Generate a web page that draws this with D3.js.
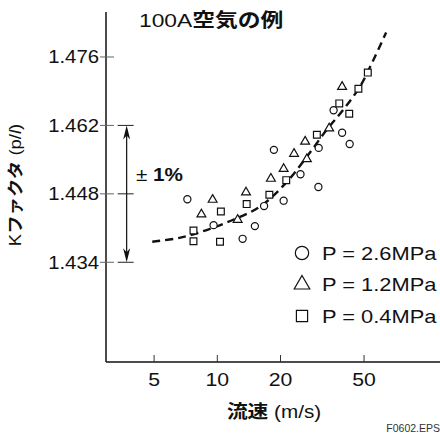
<!DOCTYPE html>
<html lang="ja">
<head>
<meta charset="UTF-8">
<title>100A空気の例</title>
<style>
    html, body { margin: 0; padding: 0; background: #fff; }
    svg text { font-family: 'Liberation Sans', Arial, 'Noto Sans CJK JP', sans-serif; fill: #111; }
</style>
</head>
<body>
<div id="chart"></div>
<script src="https://d3js.org/d3.v7.min.js"></script>
<script>
// axis ticks
const xTicks = [5, 10, 20, 50];
const yTicks = [1.434, 1.448, 1.462, 1.476];

// measured points, flow velocity (m/s) and K factor (p/l)
const names = ["P = 2.6MPa", "P = 1.2MPa", "P = 0.4MPa"];
const v26 = [7.2, 9.6, 13.2, 15.1, 16.7, 20.7, 18.6, 24.9, 30.3, 30.4, 35.8, 39.3, 42.7];
const k26 = [1.4469, 1.4416, 1.4388, 1.4414, 1.4455, 1.4466, 1.4570, 1.4520, 1.4494, 1.4574, 1.4651, 1.4605, 1.4582];
const v12 = [8.4, 9.5, 12.5, 13.7, 18.0, 20.7, 23.2, 26.7, 26.2, 34.1, 39.3];
const k12 = [1.4438, 1.4468, 1.4427, 1.4483, 1.4511, 1.4531, 1.4562, 1.4551, 1.4587, 1.4614, 1.4699];
const v04 = [7.7, 7.7, 10.4, 10.3, 13.8, 17.7, 21.3, 29.8, 38.1, 42.5, 47.0, 52.1];
const k04 = [1.4405, 1.4383, 1.4444, 1.4382, 1.4459, 1.4478, 1.4508, 1.4601, 1.4665, 1.4644, 1.4695, 1.4728];

// dashed trend curve
const curveV = [4.9, 6.6, 8.9, 11.9, 16, 21.4, 26.7, 33.2, 39.8, 47.9, 55.4, 63.7];
const curveK = [1.4382, 1.4390, 1.4406, 1.4427, 1.4454, 1.4504, 1.4556, 1.4611, 1.4652, 1.4700, 1.4754, 1.4810];

// ±1% band
const bandK = [1.434, 1.448, 1.462];

const W = 440, H = 434;

const svg = d3.select("#chart").append("svg")
    .attr("width", W).attr("height", H);

const x = d3.scaleLog().domain([2.95, 115]).range([106, 440]);
const y = d3.scaleLinear().domain([1.4136, 1.4852]).range([362, 12]);

// text helper: parts = [[string, bold, italic], ...]; text in the original is a bit wide, so stretch it
function label(px, py, parts, size, anchor, sx, rot) {
    const t = svg.append("text")
        .attr("transform", `translate(${px},${py}) rotate(${rot || 0}) scale(${sx || 1.15},1)`)
        .attr("font-size", size)
        .attr("text-anchor", anchor || "start");
    parts.forEach(p => {
        t.append("tspan").text(p[0])
            .attr("font-weight", p[1] ? "bold" : "normal")
            .attr("font-style", p[2] ? "italic" : "normal");
    });
    return t;
}

// AXES
svg.append("line")
    .attr("x1", x.range()[0]).attr("x2", x.range()[0])
    .attr("y1", y.range()[1]).attr("y2", y.range()[0])
    .attr("stroke", "#111").attr("stroke-width", 1.5);
svg.append("line")
    .attr("x1", x.range()[0]).attr("x2", x.range()[1])
    .attr("y1", y.range()[0]).attr("y2", y.range()[0])
    .attr("stroke", "#111").attr("stroke-width", 1.5);

// x ticks point inward
svg.selectAll(".xt").data(xTicks).enter().append("line")
    .attr("x1", d => x(d)).attr("x2", d => x(d))
    .attr("y1", y.range()[0]).attr("y2", y.range()[0] - 7)
    .attr("stroke", "#333").attr("stroke-width", 1);
xTicks.forEach(d => label(x(d), 386, [[String(d)]], 18, "middle", 1.18));

// y ticks cross the axis
svg.selectAll(".yt").data(yTicks).enter().append("line")
    .attr("x1", x.range()[0] - 6).attr("x2", x.range()[0] + 8)
    .attr("y1", d => y(d)).attr("y2", d => y(d))
    .attr("stroke", "#666").attr("stroke-width", 1);
yTicks.forEach(d => label(99, y(d) + 6.5, [[d.toFixed(3)]], 18, "end", 1.13));

// ±1% bracket
const bx = x(3.7);
svg.selectAll(".cap").data(bandK).enter().append("line")
    .attr("x1", bx - 9).attr("x2", bx + 7)
    .attr("y1", d => y(d)).attr("y2", d => y(d))
    .attr("stroke", "#222").attr("stroke-width", 1);
svg.append("line")
    .attr("x1", bx).attr("x2", bx)
    .attr("y1", y(bandK[2]) + 4).attr("y2", y(bandK[0]) - 4)
    .attr("stroke", "#111").attr("stroke-width", 1.2);
[[bandK[2], 1], [bandK[0], -1]].forEach(([v, dir]) => {
    const yy = y(v);
    svg.append("path")
        .attr("d", `M${bx},${yy} L${bx - 3.5},${yy + dir * 14} L${bx},${yy + dir * 10} L${bx + 3.5},${yy + dir * 14} Z`)
        .attr("fill", "#111");
});
label(136, 181, [["± "], ["1%", true]], 18, "start", 1.15);

// trend curve
const line = d3.line().x(d => x(d[0])).y(d => y(d[1])).curve(d3.curveCatmullRom);
svg.append("path")
    .datum(curveV.map((v, i) => [v, curveK[i]]))
    .attr("d", line)
    .attr("fill", "none").attr("stroke", "#111")
    .attr("stroke-width", 2.4).attr("stroke-dasharray", "8,5");

// data markers
const series = [
    {v: v26, k: k26, type: d3.symbolCircle, size: 40, big: 140},
    {v: v12, k: k12, type: d3.symbolTriangle, size: 34, big: 105},
    {v: v04, k: k04, type: d3.symbolSquare, size: 46, big: 125}
];
series.forEach(s => {
    svg.append("g").selectAll("path")
        .data(s.v.map((v, i) => [v, s.k[i]])).enter()
        .append("path")
        .attr("d", d3.symbol().type(s.type).size(s.size))
        .attr("transform", d => `translate(${x(d[0])},${y(d[1])})`)
        .attr("fill", "#fff").attr("stroke", "#111").attr("stroke-width", 1.2);
});

// LEGEND
series.forEach((s, i) => {
    const ly = 253 + i * 31.5;
    svg.append("path")
        .attr("d", d3.symbol().type(s.type).size(s.big))
        .attr("transform", `translate(302,${ly})`)
        .attr("fill", "#fff").attr("stroke", "#111").attr("stroke-width", 1.2);
    label(322, ly + 6.5, [[names[i]]], 17.5, "start", 1.25);
});

// TITLES
label(139, 27, [["100A"], ["空気の例", true]], 19, "start", 1.2);
label(274, 418, [["流速", true], [" (m/s)"]], 18, "middle", 1.15);
label(21, 185, [["K"], ["ファクタ", true], [" (p/"], ["l", false, true], [")"]], 16.5, "middle", 1.12, -90);
svg.append("text")
    .attr("x", 440).attr("y", 432)
    .attr("text-anchor", "end").attr("font-size", 10.5)
    .style("fill", "#333")
    .text("F0602.EPS");
</script>
</body>
</html>
